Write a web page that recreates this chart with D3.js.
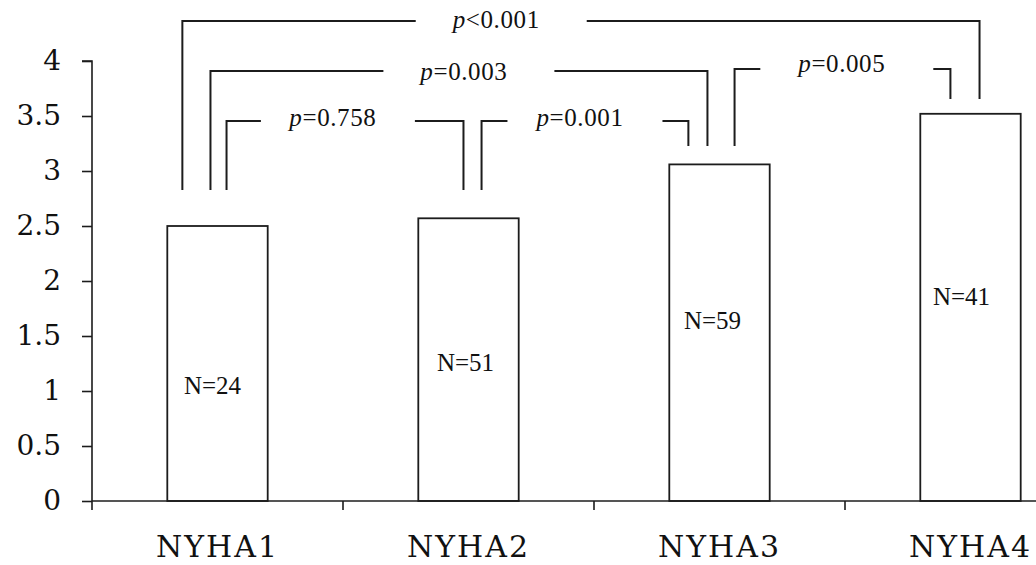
<!DOCTYPE html>
<html>
<head>
<meta charset="utf-8">
<script src="https://cdn.jsdelivr.net/npm/d3@7"></script>
<style>
  html, body { margin: 0; padding: 0; background: #fff; }
  svg { display: block; }
  .serif { font-family: "Liberation Serif", "Times New Roman", serif; }
  .wide { font-family: "DejaVu Serif", serif; }
</style>
</head>
<body>
<svg id="chart" width="1036" height="565"></svg>
<script>
// ---- data ----
const categories = ["NYHA1", "NYHA2", "NYHA3", "NYHA4"];
const values = [2.50, 2.57, 3.06, 3.52];
const counts = [24, 51, 59, 41];
const yTicks = [0, 0.5, 1, 1.5, 2, 2.5, 3, 3.5, 4];
const yTickLabels = ["0", "0.5", "1", "1.5", "2", "2.5", "3", "3.5", "4"];

// pairwise comparisons (category indices) and their p-values
const compFrom = [0, 0, 0, 1, 2];
const compTo = [3, 2, 1, 2, 3];
const compSign = ["<", "=", "=", "=", "="];
const compP = ["0.001", "0.003", "0.758", "0.001", "0.005"];

// ---- layout ----
const W = 1036, H = 565;
const margin = { left: 92, top: 61, bottom: 64 };
const ink = "#1c1c1c";

// bracket geometry: heights in axis units, horizontal anchors as fractions of bar width
const bracketLayout = [
  { top: 4.364, endA: 2.827, endB: 3.655, fa: 0.15, fb: 0.59, at: 0.40, gap: 171, base: 7 },
  { top: 3.909, endA: 2.827, endB: 3.227, fa: 0.43, fb: 0.38, at: 0.52, gap: 171, base: 9 },
  { top: 3.455, endA: 2.827, endB: 2.827, fa: 0.59, fb: 0.45, at: 0.47, gap: 154, base: 5 },
  { top: 3.455, endA: 2.827, endB: 3.227, fa: 0.63, fb: 0.19, at: 0.50, gap: 155, base: 5 },
  { top: 3.927, endA: 3.227, endB: 3.655, fa: 0.65, fb: 0.30, at: 0.52, gap: 173, base: 3 }
];
// baseline height (axis units) and horizontal nudge of the N labels
const nLabelAt = [0.97, 1.18, 1.56, 1.78];
const nLabelDx = [-5, -3, -7, -9];

const svg = d3.select("#chart");

const x = d3.scaleBand()
  .domain(categories)
  .range([margin.left, 1096])
  .paddingInner(0.6)
  .paddingOuter(0.3);

const y = d3.scaleLinear()
  .domain([0, 4])
  .range([H - margin.bottom, margin.top]);

// ---- bars ----
svg.append("g")
  .selectAll("rect")
  .data(categories)
  .join("rect")
  .attr("x", d => x(d))
  .attr("y", (d, i) => y(values[i]))
  .attr("width", x.bandwidth())
  .attr("height", (d, i) => y(0) - y(values[i]))
  .attr("fill", "#fff")
  .attr("stroke", ink)
  .attr("stroke-width", 1.8);

// N labels inside bars
svg.append("g")
  .selectAll("text")
  .data(categories)
  .join("text")
  .attr("class", "serif")
  .attr("x", (d, i) => x(d) + x.bandwidth() / 2 + nLabelDx[i])
  .attr("y", (d, i) => y(nLabelAt[i]))
  .attr("text-anchor", "middle")
  .attr("font-size", 25)
  .attr("fill", "#111")
  .text((d, i) => "N=" + counts[i]);

// ---- y axis ----
const yAxis = d3.axisLeft(y)
  .tickValues(yTicks)
  .tickFormat((d, i) => yTickLabels[i])
  .tickSize(10)
  .tickPadding(21);

const gy = svg.append("g")
  .attr("transform", `translate(${margin.left},0)`)
  .call(yAxis);
gy.attr("font-family", null);
gy.select(".domain").attr("stroke", ink).attr("stroke-width", 1.6)
  .attr("d", `M-10,${y(4)}H0V${y(0)}`);
gy.selectAll(".tick line").attr("stroke", ink).attr("stroke-width", 1.6);
gy.selectAll(".tick text")
  .attr("class", "wide")
  .attr("font-size", 28)
  .attr("fill", "#111");

// ---- x axis (ticks between categories) ----
const gx = svg.append("g")
  .attr("transform", `translate(0,${y(0)})`);
const xAxis = d3.axisBottom(x).tickSize(0).tickPadding(0);
gx.call(xAxis);
gx.attr("font-family", null);
gx.select(".domain").remove();
gx.selectAll(".tick text")
  .attr("class", "wide")
  .attr("y", 56)
  .attr("dy", 0)
  .attr("font-size", 30)
  .attr("letter-spacing", 2)
  .attr("fill", "#111");

const gapHalf = (x.step() - x.bandwidth()) / 2;
const boundaries = categories.map(d => x(d) - gapHalf)
  .concat([x(categories[categories.length - 1]) + x.bandwidth() + gapHalf]);
gx.append("line")
  .attr("x1", margin.left).attr("x2", boundaries[boundaries.length - 1])
  .attr("y1", 0).attr("y2", 0)
  .attr("stroke", ink).attr("stroke-width", 1.6);
gx.selectAll("line.btick")
  .data(boundaries)
  .join("line")
  .attr("class", "btick")
  .attr("x1", d => d).attr("x2", d => d)
  .attr("y1", 0).attr("y2", 9)
  .attr("stroke", ink).attr("stroke-width", 1.6);

// ---- significance brackets ----
const line = d3.line();
const gb = svg.append("g");
bracketLayout.forEach((b, i) => {
  const ca = categories[compFrom[i]], cb = categories[compTo[i]];
  const xa = x(ca) + x.bandwidth() * b.fa;
  const xb = x(cb) + x.bandwidth() * b.fb;
  const yt = y(b.top);
  const mid = xa + (xb - xa) * b.at;
  const gl = mid - b.gap / 2, gr = mid + b.gap / 2;

  gb.append("path")
    .attr("d", line([[xa, y(b.endA)], [xa, yt], [gl, yt]]))
    .attr("fill", "none").attr("stroke", ink).attr("stroke-width", 2);
  gb.append("path")
    .attr("d", line([[gr, yt], [xb, yt], [xb, y(b.endB)]]))
    .attr("fill", "none").attr("stroke", ink).attr("stroke-width", 2);

  const t = gb.append("text")
    .attr("class", "serif")
    .attr("x", mid - 5)
    .attr("y", yt + b.base)
    .attr("text-anchor", "middle")
    .attr("font-size", 25)
    .attr("letter-spacing", 0.6)
    .attr("fill", "#111");
  t.append("tspan").attr("font-style", "italic").text("p");
  t.append("tspan").text(compSign[i] + compP[i]);
});
</script>
</body>
</html>
